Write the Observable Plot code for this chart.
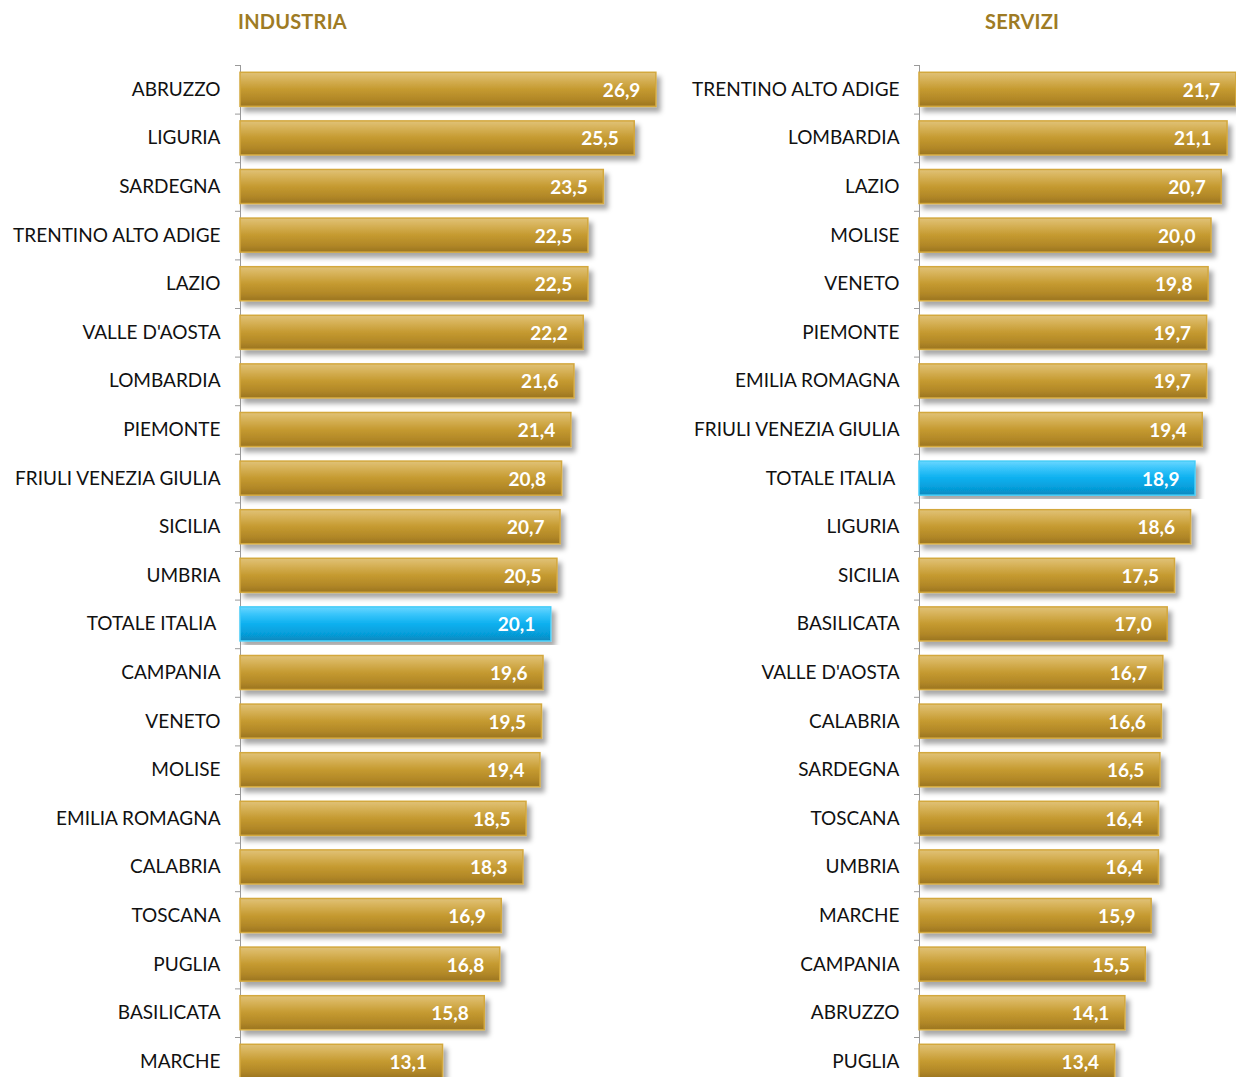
<!DOCTYPE html>
<html>
<head>
<meta charset="utf-8">
<script src="https://cdn.jsdelivr.net/npm/d3@7"></script>
<script src="https://cdn.jsdelivr.net/npm/@observablehq/plot@0.6"></script>
<style>
  html, body { margin: 0; padding: 0; background: #fff; overflow: hidden; }
  #wrap { position: relative; width: 1236px; height: 1077px; overflow: hidden; font-family: Lato, "Open Sans", sans-serif; }
  .title { position: absolute; top: 9px; font-weight: bold; font-size: 20px; color: #9e7b24; letter-spacing: 0.2px; }
  .panel { position: absolute; top: 0; }
</style>
</head>
<body>
<svg width="0" height="0" style="position:absolute">
  <defs>
    <linearGradient id="gold" x1="0" y1="0" x2="0" y2="1">
      <stop offset="0" stop-color="#e0c278"/>
      <stop offset="0.18" stop-color="#d8b45c"/>
      <stop offset="0.5" stop-color="#c59a30"/>
      <stop offset="0.8" stop-color="#b18727"/>
      <stop offset="1" stop-color="#9a7421"/>
    </linearGradient>
    <linearGradient id="blue" x1="0" y1="0" x2="0" y2="1">
      <stop offset="0" stop-color="#6ad6ff"/>
      <stop offset="0.2" stop-color="#3cc6fb"/>
      <stop offset="0.5" stop-color="#0cb0ef"/>
      <stop offset="0.8" stop-color="#069dd9"/>
      <stop offset="1" stop-color="#0888bd"/>
    </linearGradient>
    <filter id="shadow" x="-5%" y="-5%" width="115%" height="115%">
      <feDropShadow dx="4" dy="5" stdDeviation="2.5" flood-color="#000" flood-opacity="0.35"/>
    </filter>
  </defs>
</svg>
<div id="wrap">
  <div class="title" style="left:238px">INDUSTRIA</div>
  <div class="title" style="left:985px">SERVIZI</div>
  <div class="panel" id="left" style="left:0px"></div>
  <div class="panel" id="right" style="left:680px"></div>
</div>
<script>
// ---- Data ----
const industriaCategories = ["ABRUZZO", "LIGURIA", "SARDEGNA", "TRENTINO ALTO ADIGE", "LAZIO", "VALLE D'AOSTA", "LOMBARDIA", "PIEMONTE", "FRIULI VENEZIA GIULIA", "SICILIA", "UMBRIA", "TOTALE ITALIA", "CAMPANIA", "VENETO", "MOLISE", "EMILIA ROMAGNA", "CALABRIA", "TOSCANA", "PUGLIA", "BASILICATA", "MARCHE"];
const industriaValues = [26.9, 25.5, 23.5, 22.5, 22.5, 22.2, 21.6, 21.4, 20.8, 20.7, 20.5, 20.1, 19.6, 19.5, 19.4, 18.5, 18.3, 16.9, 16.8, 15.8, 13.1];

const serviziCategories = ["TRENTINO ALTO ADIGE", "LOMBARDIA", "LAZIO", "MOLISE", "VENETO", "PIEMONTE", "EMILIA ROMAGNA", "FRIULI VENEZIA GIULIA", "TOTALE ITALIA", "LIGURIA", "SICILIA", "BASILICATA", "VALLE D'AOSTA", "CALABRIA", "SARDEGNA", "TOSCANA", "UMBRIA", "MARCHE", "CAMPANIA", "ABRUZZO", "PUGLIA"];
const serviziValues = [21.7, 21.1, 20.7, 20.0, 19.8, 19.7, 19.7, 19.4, 18.9, 18.6, 17.5, 17.0, 16.7, 16.6, 16.5, 16.4, 16.4, 15.9, 15.5, 14.1, 13.4];

const highlight = "TOTALE ITALIA";
const fmt = v => v.toFixed(1).replace(".", ",");

function panel(categories, values, {width, marginLeft, pxPerUnit, xMax}) {
  const data = categories.map((c, i) => ({name: c, value: values[i]}));
  const top = 65, step = 48.6;
  const isTot = d => d.name === highlight;
  const plot = Plot.plot({
    width,
    height: 1077,
    marginTop: top,
    marginBottom: 0,
    marginLeft,
    marginRight: 0,
    style: {fontFamily: "Lato, 'Open Sans', sans-serif", fontSize: "19px", color: "#111", background: "transparent", overflow: "hidden"},
    x: {domain: [0, xMax], range: [marginLeft, marginLeft + xMax * pxPerUnit], axis: null},
    y: {
      domain: categories,
      range: [top, top + categories.length * step],
      round: false,
      paddingInner: 0.3,
      paddingOuter: 0.15,
      tickSize: 0,
      tickPadding: 20,
      label: null,
      tickFormat: d => d === highlight ? d + "\u00a0" : d
    },
    marks: [
      Plot.ruleX([0], {stroke: "#9a9a9a", strokeWidth: 1}),
      Plot.ruleY(data, {y: "name", x1: -5 / pxPerUnit, x2: 0, dy: -step / 2, stroke: "#9a9a9a", strokeWidth: 1}),
      Plot.barX(data.filter(d => !isTot(d)), {y: "name", x1: 0, x2: "value", fill: "url(#gold)", stroke: "#d3a83e", strokeWidth: 1.5}),
      Plot.barX(data.filter(isTot), {y: "name", x1: 0, x2: "value", fill: "url(#blue)", stroke: "#45ccf7", strokeWidth: 1.5}),
      Plot.text(data, {y: "name", x: "value", text: d => fmt(d.value), dx: -16, dy: 1, textAnchor: "end", fill: "#fff", fontWeight: "bold", fontSize: 19})
    ]
  });
  plot.querySelectorAll('g[aria-label="bar"]').forEach(g => g.setAttribute("filter", "url(#shadow)"));
  plot.querySelectorAll('g[aria-label="y-axis tick label"] text, g[aria-label="y-axis"] text').forEach(t => t.setAttribute("fill", "#111"));
  return plot;
}

document.getElementById("left").appendChild(panel(industriaCategories, industriaValues, {width: 680, marginLeft: 240, pxPerUnit: 15.46, xMax: 28.4}));
document.getElementById("right").appendChild(panel(serviziCategories, serviziValues, {width: 556, marginLeft: 239, pxPerUnit: 14.6, xMax: 22}));
</script>
</body>
</html>
